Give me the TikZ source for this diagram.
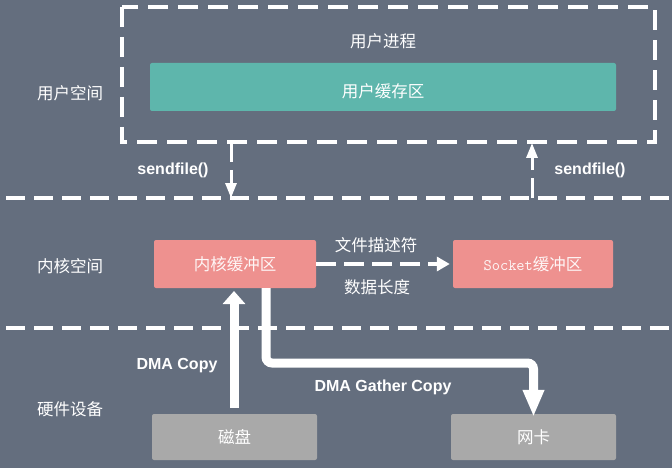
\documentclass[tikz,border=0pt]{standalone}
\usepackage{fontspec}
\setmainfont{Liberation Sans}
\newfontfamily\cjk{Noto Sans CJK SC}
\usetikzlibrary{arrows.meta}
\definecolor{bgslate}{HTML}{646E7E}
\definecolor{tealbox}{HTML}{5EB6AC}
\definecolor{pinkbox}{HTML}{EE918F}
\definecolor{greybox}{HTML}{A9A9A9}
\tikzset{
  x=1pt, y=-1pt,
  lbl/.style={text=white, font=\cjk\fontsize{16.5}{19}\selectfont, inner sep=0pt},
  eng/.style={text=white, font=\bfseries\fontsize{16}{19}\selectfont, inner sep=0pt},
  buf/.style={rounded corners=2pt, inner sep=0pt, text=white,
    font=\cjk\fontsize{16.5}{19}\selectfont},
  sep/.style={white, line width=3.5pt, dash pattern=on 19pt off 9pt},
  callarrow/.style={white, line width=3pt, dash pattern=on 20pt off 8pt,
    -{Triangle[width=11pt,length=15pt]}},
  fdarrow/.style={white, line width=4pt, dash pattern=on 20pt off 8pt,
    -{Triangle[width=14pt,length=13pt]}},
  dmaarrow/.style={white, line width=9pt},
}
\begin{document}
\begin{tikzpicture}
  % backdrop
  \fill[bgslate] (0,0) rectangle (672,468);
  \useasboundingbox (0,0) rectangle (672,468);

  % layer separators
  \coordinate (s1a) at (6,198);
  \coordinate (s1b) at (672,198);
  \coordinate (s2a) at (6,328);
  \coordinate (s2b) at (672,328);
  \draw[sep] (s1a) -- (s1b);
  \draw[sep] (s2a) -- (s2b);

  % user process frame
  \draw[sep, line width=3.5pt, dash pattern=on 20pt off 10pt]
    (122,7) rectangle (655,142);
  \node[lbl] (proc) at (383,41) {用户进程};
  \fill[tealbox, rounded corners=2pt] (150,63) rectangle (616,111);
  \node[lbl] (ubuf) at (383,91) {用户缓存区};

  % layer labels
  \node[lbl] (userspace) at (70,93) {用户空间};
  \node[lbl] (kernspace) at (70,266) {内核空间};
  \node[lbl] (hwspace)   at (70,409) {硬件设备};

  % kernel buffers
  \node[buf, fill=pinkbox, minimum width=162pt, minimum height=48pt,
        text=white!92!pinkbox] (kbuf) at (235,264) {内核缓冲区};
  \node[buf, fill=pinkbox, minimum width=160pt, minimum height=48pt,
        text=white!92!pinkbox] (sbuf) at (533,264)
        {{\ttfamily\fontsize{16}{19}\selectfont Socket}缓冲区};

  % hardware devices
  \node[buf, fill=greybox, minimum width=165pt, minimum height=46pt]
    (disk) at (234.5,437) {磁盘};
  \node[buf, fill=greybox, minimum width=165pt, minimum height=46pt]
    (nic) at (533.5,437) {网卡};

  % sendfile calls across the user/kernel boundary
  \coordinate (c1top) at (231,142);
  \coordinate (c1bot) at (231,198);
  \coordinate (c2top) at (532,143);
  \coordinate (c2bot) at (532,198);
  \draw[callarrow] (c1top) -- (c1bot);
  \draw[callarrow] (c2bot) -- (c2top);
  \node[eng] (sf1) at (173,170) {sendfile()};
  \node[eng] (sf2) at (590,170) {sendfile()};

  % descriptor hand-off between kernel buffers
  \draw[fdarrow] (kbuf.east) -- ([xshift=-3pt]sbuf.west);
  \node[lbl] (fd)  at (376,245) {文件描述符};
  \node[lbl] (len) at (377,287) {数据长度};

  % DMA copy from disk into the kernel buffer
  \draw[dmaarrow, -{Triangle[width=22pt,length=13pt]}]
    (disk.north -| 234,0) ++(0,-6) -- (234,291);
  \node[eng] (dmac) at (177,366) {DMA Copy};

  % DMA gather copy from the kernel buffer to the NIC
  \draw[dmaarrow, rounded corners=6pt, -{Triangle[width=20pt,length=27pt]}]
    (kbuf.south -| 266,0) -- (266,363) -- (533.5,363) -- ([yshift=-3pt]nic.north);
  \node[eng] (dmag) at (383,387) {DMA Gather Copy};
\end{tikzpicture}
\end{document}
